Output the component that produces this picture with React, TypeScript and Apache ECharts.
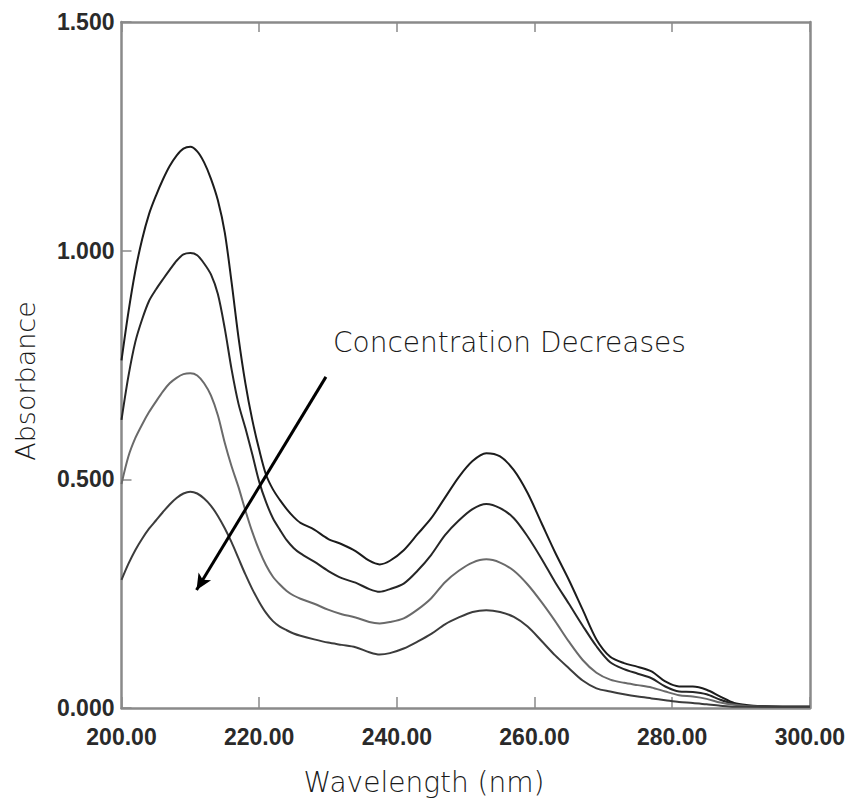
import React, { useEffect, useRef } from "react";
import * as echarts from "echarts";

const wavelengths = [
  200, 201, 202, 203, 204, 205, 206, 207, 208, 209, 210, 211, 212, 213, 214, 215, 216, 217, 218, 219,
  220, 221, 222, 223, 224, 225, 226, 228, 230, 232, 234, 236, 237.5, 239, 241, 243, 245, 247, 249, 251,
  253, 255, 257, 259, 261, 263, 265, 267, 269, 271, 273, 275, 277, 279, 281, 283, 285, 287, 289, 291,
  293, 296, 300,
];

const conc1 = [
  0.76, 0.865, 0.955, 1.025, 1.08, 1.12, 1.155, 1.185, 1.208, 1.223, 1.227, 1.217, 1.193, 1.157, 1.11, 1.04, 0.93, 0.81, 0.71, 0.63,
  0.565, 0.51, 0.478, 0.455, 0.435, 0.418, 0.405, 0.39, 0.37, 0.358, 0.343, 0.322, 0.314, 0.322, 0.345, 0.38, 0.415, 0.46, 0.505, 0.54,
  0.557, 0.55, 0.52, 0.47, 0.405, 0.34, 0.28, 0.215, 0.15, 0.112, 0.098, 0.09, 0.08, 0.058, 0.047, 0.047, 0.04, 0.025, 0.011, 0.006,
  0.004, 0.003, 0.003,
];

const conc2 = [
  0.63, 0.725, 0.8, 0.85, 0.89, 0.915, 0.937, 0.958, 0.978, 0.992, 0.995, 0.99, 0.972, 0.948, 0.905, 0.83, 0.74, 0.665, 0.612, 0.555,
  0.495, 0.45, 0.415, 0.39, 0.367, 0.35, 0.338, 0.32, 0.3, 0.284, 0.274, 0.26, 0.254, 0.26, 0.272, 0.3, 0.335, 0.378, 0.41, 0.435,
  0.446, 0.437, 0.415, 0.375, 0.327, 0.275, 0.228, 0.18, 0.135, 0.1, 0.085, 0.075, 0.065, 0.047, 0.036, 0.035, 0.03, 0.018, 0.009, 0.005,
  0.004, 0.003, 0.003,
];

const conc3 = [
  0.49, 0.55, 0.59, 0.62, 0.647, 0.67, 0.692, 0.71, 0.722, 0.73, 0.732, 0.727, 0.71, 0.683, 0.64, 0.58, 0.528, 0.483, 0.432, 0.385,
  0.345, 0.312, 0.287, 0.27, 0.256, 0.246, 0.239, 0.228, 0.215, 0.205, 0.198, 0.188, 0.185, 0.188, 0.196, 0.215, 0.24, 0.275, 0.3, 0.318,
  0.325, 0.318, 0.3, 0.27, 0.232, 0.19, 0.145, 0.105, 0.077, 0.062, 0.055, 0.05, 0.045, 0.036, 0.028, 0.025, 0.02, 0.012, 0.007, 0.004,
  0.003, 0.003, 0.003,
];

const conc4 = [
  0.28, 0.315, 0.345, 0.37, 0.392, 0.41, 0.428, 0.445, 0.459, 0.469, 0.473, 0.469, 0.458, 0.442, 0.42, 0.393, 0.362, 0.327, 0.292, 0.26,
  0.232, 0.208, 0.19, 0.178, 0.17, 0.163, 0.158, 0.15, 0.143, 0.138, 0.133, 0.122, 0.117, 0.12, 0.13, 0.145, 0.162, 0.183, 0.198, 0.21,
  0.214, 0.21, 0.199, 0.178, 0.147, 0.115, 0.087, 0.06, 0.043, 0.036, 0.03, 0.025, 0.021, 0.017, 0.013, 0.011, 0.008, 0.005, 0.003, 0.003,
  0.003, 0.003, 0.003,
];

const seriesValues = [conc1, conc2, conc3, conc4];
const seriesColors = ["#1c1c1c", "#262626", "#6a6a6a", "#3c3c3c"];

const arrowStart = [229.7, 0.724];
const arrowEnd = [210.9, 0.258];

const annotationText = "Concentration Decreases";
const xName = "Wavelength (nm)";
const yName = "Absorbance";

export default function App() {
  const ref = useRef<HTMLDivElement>(null);

  useEffect(() => {
    if (!ref.current) return;
    const chart = echarts.init(ref.current, null, { renderer: "svg" });
    const axisColor = "#8a8a8a";
    const tickFont = {
      fontFamily: "Liberation Sans, Arial, sans-serif",
      fontWeight: "bold" as const,
      fontSize: 23,
      color: "#2a2a2a",
    };
    const series: any[] = seriesValues.map((vals, i) => ({
      type: "line",
      data: wavelengths.map((w, j) => [w, vals[j]]),
      showSymbol: false,
      smooth: 0.3,
      lineStyle: { color: seriesColors[i], width: 2 },
      itemStyle: { color: seriesColors[i] },
      z: 3,
    }));
    series[0].markLine = {
      silent: true,
      animation: false,
      symbol: ["none", "arrow"],
      symbolSize: [11, 16],
      label: { show: false },
      lineStyle: { color: "#000", width: 3, type: "solid" },
      data: [[{ coord: arrowStart }, { coord: arrowEnd }]],
    };

    chart.setOption({
      animation: false,
      backgroundColor: "#fff",
      grid: { left: 121.5, right: 37.5, top: 22, bottom: 90, containLabel: false },
      xAxis: [
        {
          type: "value",
          min: 200,
          max: 300,
          interval: 20,
          position: "bottom",
          axisLine: { show: true, onZero: false, lineStyle: { color: axisColor, width: 2.5 } },
          axisTick: { show: true, inside: true, length: 11, lineStyle: { color: axisColor, width: 1.5 } },
          splitLine: { show: false },
          axisLabel: { ...tickFont, margin: 17, formatter: (v: number) => v.toFixed(2) },
        },
        {
          type: "value",
          min: 200,
          max: 300,
          interval: 20,
          position: "top",
          axisLine: { show: true, onZero: false, lineStyle: { color: axisColor, width: 2.5 } },
          axisTick: { show: true, inside: true, length: 10, lineStyle: { color: axisColor, width: 1.5 } },
          splitLine: { show: false },
          axisLabel: { show: false },
        },
      ],
      yAxis: [
        {
          type: "value",
          min: 0,
          max: 1.5,
          interval: 0.5,
          position: "left",
          axisLine: { show: true, onZero: false, lineStyle: { color: axisColor, width: 2.5 } },
          axisTick: { show: true, inside: true, length: 10, lineStyle: { color: axisColor, width: 1.5 } },
          splitLine: { show: false },
          axisLabel: { ...tickFont, margin: 7, formatter: (v: number) => v.toFixed(3) },
        },
        {
          type: "value",
          min: 0,
          max: 1.5,
          interval: 0.5,
          position: "right",
          axisLine: { show: true, onZero: false, lineStyle: { color: axisColor, width: 2.5 } },
          axisTick: { show: false },
          splitLine: { show: false },
          axisLabel: { show: false },
        },
      ],
      series,
      graphic: [
        {
          type: "text",
          x: 333,
          y: 342,
          style: {
            text: annotationText,
            fontFamily: "DejaVu Sans, sans-serif",
            fontWeight: 200,
            fontSize: 28,
            fill: "#1a1a1a",
            align: "left",
            verticalAlign: "middle",
          },
        },
        {
          type: "text",
          x: 25,
          y: 381,
          rotation: Math.PI / 2,
          style: {
            text: yName,
            fontFamily: "DejaVu Sans, sans-serif",
            fontWeight: 200,
            fontSize: 27,
            fill: "#1a1a1a",
            align: "center",
            verticalAlign: "middle",
          },
        },
        {
          type: "text",
          x: 424,
          y: 782,
          style: {
            text: xName,
            fontFamily: "DejaVu Sans, sans-serif",
            fontWeight: 200,
            fontSize: 28,
            fill: "#1a1a1a",
            align: "center",
            verticalAlign: "middle",
          },
        },
      ],
    });
    return () => chart.dispose();
  }, []);

  return (
    <div
      ref={ref}
      style={{ position: "absolute", left: 0, top: 0, width: 848, height: 798 }}
    />
  );
}
